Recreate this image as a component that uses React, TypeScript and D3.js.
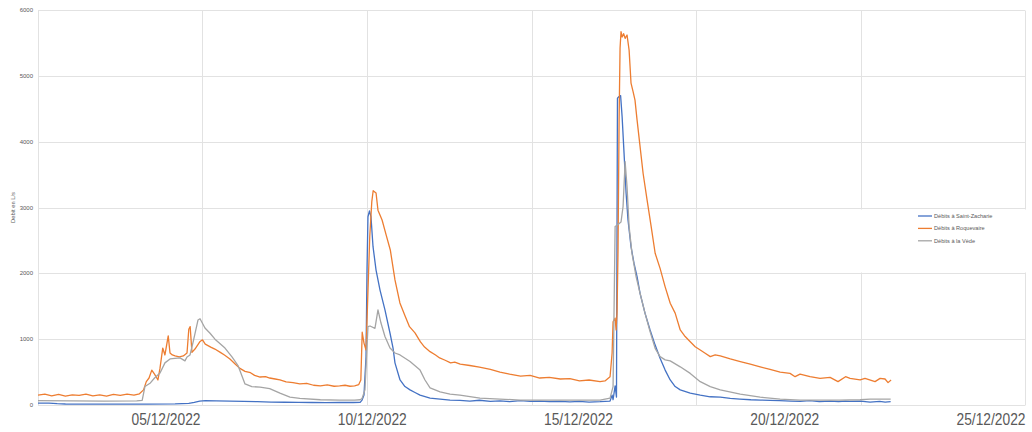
import React from 'react';
import * as d3 from 'd3';

// hours since 30/11/2022 00:00, débit in L/s
const saintZacharie: [number, number][] = [
  [0, 30], [8, 28], [14, 20], [20, 15], [40, 12], [60, 12], [80, 14], [100, 18], [110, 25], [114, 40],
  [118, 60], [122, 65], [130, 62], [140, 58], [150, 55], [160, 52], [170, 45], [180, 42], [190, 40],
  [200, 38], [210, 36], [220, 38], [230, 38], [235, 40], [236.4, 75], [237.8, 150], [239.3, 735],
  [240, 2050], [240.7, 2860], [241.8, 2950], [242.9, 2860], [244.4, 2405], [246.6, 2050], [249.5, 1745],
  [253.1, 1445], [256.8, 1090], [259, 865], [260.4, 640], [264.1, 380], [267.7, 280], [271.4, 230],
  [275, 190], [278.7, 150], [286, 105], [293.3, 90], [300.6, 75], [307.8, 70], [315, 60], [322, 72],
  [330, 55], [337, 62], [344, 50], [352, 66], [359, 55], [366, 60], [373, 50], [381, 56], [388, 48],
  [395, 55], [402, 45], [410, 50], [417.3, 60], [418.8, 150], [419.5, 80], [421, 290], [422, 120],
  [422.7, 4660], [423.9, 4685], [425, 4700], [426.1, 4380], [427.5, 3830], [429, 3220], [430.4, 2810],
  [432.6, 2405], [434.8, 2150], [437, 1950], [439.2, 1695], [442.8, 1395], [446.5, 1140], [450.2, 910],
  [453.8, 710], [457.5, 530], [461.2, 380], [464.8, 280], [468.5, 230], [475.8, 180], [483.1, 150],
  [490.4, 125], [497.7, 120], [505, 100], [512, 90], [520, 80], [527, 75], [534, 70], [541, 65],
  [549, 60], [556, 55], [563, 65], [570, 50], [578, 60], [584, 50], [589, 60], [592, 55], [600, 60],
  [607, 45], [614, 55], [618, 45], [622, 50],
];

const roquevaire: [number, number][] = [
  [0, 150], [5, 165], [10, 140], [15, 160], [20, 135], [25, 155], [30, 145], [35, 165], [40, 140],
  [45, 155], [50, 135], [55, 160], [60, 145], [65, 165], [70, 150], [74, 170], [77, 230], [79, 355],
  [81, 410], [83, 530], [85, 470], [87.5, 380], [89, 560], [91, 865], [92.6, 760], [95, 1050],
  [96.3, 790], [98, 760], [100, 745], [103, 730], [106, 745], [108.7, 790], [110, 1150], [111, 1190],
  [112.3, 800], [114.5, 850], [118, 960], [120, 990], [122, 925], [126, 880], [129, 850], [133, 800],
  [136, 760], [140, 700], [144, 620], [147, 560], [151, 510], [155, 490], [158, 450], [162, 425],
  [166, 430], [169, 410], [173, 395], [176.5, 380], [181, 350], [186, 340], [191, 320], [196, 330],
  [201, 300], [206, 290], [211, 305], [216, 285], [220, 290], [224, 300], [227.6, 285], [231, 290],
  [234, 310], [235.5, 380], [236.5, 1105], [237.8, 940], [239.3, 835], [240.5, 1600], [242, 2555],
  [243.5, 3090], [244.5, 3255], [246.6, 3220], [248, 2960], [251, 2810], [254, 2580], [257, 2355],
  [260.4, 1900], [264, 1550], [268, 1340], [271, 1190], [275, 1095], [279, 960], [282, 880], [286, 810],
  [290, 760], [293, 715], [297, 680], [301, 640], [304, 650], [308, 620], [315, 600], [322, 575],
  [330, 540], [337, 500], [344, 470], [352, 440], [359, 450], [366, 410], [373, 420], [381, 395],
  [388, 400], [395, 365], [402, 380], [410, 355], [413.6, 365], [417.3, 430], [418.8, 790],
  [419.5, 1265], [421, 1320], [421.7, 1140], [422.4, 1400], [423.1, 2310], [423.9, 4330],
  [424.6, 5420], [425.3, 5670], [426.1, 5590], [427.2, 5640], [428.3, 5570], [429.7, 5620],
  [431.2, 5390], [432.6, 4890], [434.1, 4760], [435.5, 4630], [437, 4330], [439.2, 3925],
  [441.4, 3520], [444.3, 3115], [447.3, 2710], [450.2, 2305], [453.8, 2075], [457.5, 1795],
  [461.2, 1545], [464.8, 1395], [468.5, 1140], [472.1, 1040], [475.8, 960], [479.4, 885], [483.1, 835],
  [486.7, 785], [490.4, 735], [494, 760], [497.7, 745], [505, 700], [512.3, 660], [519.6, 620],
  [526.8, 580], [534, 540], [541.4, 500], [548.6, 480], [552.3, 430], [555.9, 470], [563.2, 430],
  [570.5, 405], [577.8, 420], [583.6, 355], [589.1, 430], [592.4, 405], [599.7, 380], [603.3, 405],
  [610.6, 355], [614.3, 405], [617.9, 395], [620.1, 340], [622.3, 380],
];

const laVede: [number, number][] = [
  [0, 65], [24, 62], [48, 60], [72, 62], [76, 70], [78, 280], [82, 335], [85, 410], [89, 485],
  [92.6, 640], [96.3, 700], [103.6, 715], [107.2, 670], [108.7, 730], [110.9, 760], [113.1, 950],
  [116.7, 1290], [118.2, 1310], [121.8, 1170], [125.5, 1090], [129.1, 1000], [136.4, 865],
  [141.5, 730], [145.9, 600], [149, 430], [151, 320], [156, 280], [162, 270], [169, 250], [176.5, 180],
  [183.8, 120], [191, 100], [206, 80], [220, 75], [231, 75], [235, 80], [236.4, 100], [238.5, 230],
  [240.7, 1190], [242.2, 1200], [245.8, 1165], [248, 1445], [250.2, 1245], [253.1, 1040],
  [256.8, 865], [260.4, 790], [264.1, 760], [271.4, 660], [278.7, 530], [282.3, 380], [286, 260],
  [293.3, 200], [300.6, 165], [307.8, 150], [322.4, 105], [337, 90], [351.6, 75], [366, 75],
  [381, 75], [395, 75], [410, 75], [417.3, 105], [419.5, 280], [421, 2710], [422.7, 2735],
  [425.3, 2780], [426.8, 3015], [428.3, 3695], [429.7, 3315], [431.2, 2710], [433.3, 2305],
  [436.3, 1950], [439.2, 1695], [442.8, 1395], [446.5, 1115], [450.2, 860], [453.8, 735],
  [457.5, 685], [461.2, 670], [468.5, 580], [475.8, 480], [483.1, 355], [490.4, 280], [497.7, 230],
  [512.3, 165], [526.8, 120], [541.4, 90], [555.9, 75], [570.5, 75], [585, 75], [599.7, 80],
  [607, 90], [614, 90], [622, 90],
];

const seriesNames = ['Débits à Saint-Zacharie', 'Débits à Roquevaire', 'Débits à la Vède'];
const seriesColors = ['#4472C4', '#ED7D31', '#A5A5A5'];
const yTicks = [0, 1000, 2000, 3000, 4000, 5000, 6000];
const gridDayOffsets = [0, 5, 10, 15, 20, 25, 30];
const xLabels = ['05/12/2022', '10/12/2022', '15/12/2022', '20/12/2022', '25/12/2022'];

const W = 1032;
const H = 432;
const START = new Date(2022, 10, 30);
const parseLabel = d3.timeParse('%d/%m/%Y');
const font = "'Liberation Sans', Arial, sans-serif";
const gridColor = '#e2e2e2';

export default function App() {
  const x = d3
    .scaleTime()
    .domain([START, d3.timeDay.offset(START, 30)])
    .range([38, 1025]);
  const y = d3.scaleLinear().domain([0, 6000]).range([405, 10]);

  // the date labels under the chart sit on their own, wider spacing
  const labelDates = xLabels.map(l => parseLabel(l) as Date);
  const xl = d3
    .scaleTime()
    .domain([labelDates[0], labelDates[labelDates.length - 1]])
    .range([166, 991]);

  const toDate = (h: number) => new Date(START.getTime() + h * 3600 * 1000);
  const line = d3
    .line<[number, number]>()
    .x(d => x(toDate(d[0])))
    .y(d => y(d[1]));

  const allSeries = [saintZacharie, roquevaire, laVede];
  const crisp = (v: number) => Math.round(v) + 0.5;

  return (
    <svg width={W} height={H} style={{ position: 'absolute', left: 0, top: 0, background: '#fff' }}>
      {/* gridlines */}
      {yTicks.map(t => (
        <line
          key={'h' + t}
          x1={38}
          x2={1025}
          y1={crisp(y(t))}
          y2={crisp(y(t))}
          stroke={gridColor}
          strokeWidth={1}
        />
      ))}
      {gridDayOffsets.map(d => {
        const gx = crisp(x(d3.timeDay.offset(START, d)));
        return (
          <line key={'v' + d} x1={gx} x2={gx} y1={crisp(y(6000))} y2={crisp(y(0))} stroke={gridColor} strokeWidth={1} />
        );
      })}

      {/* legend background */}
      <rect x={852} y={crisp(y(3000)) + 1} width={180} height={crisp(y(2000)) - crisp(y(3000)) - 2} fill="#fff" />

      {/* y tick labels */}
      {yTicks.map(t => (
        <text
          key={'yt' + t}
          x={33}
          y={y(t)}
          dy="0.35em"
          textAnchor="end"
          fontFamily={font}
          fontSize={6}
          fill="#595959"
        >
          {t}
        </text>
      ))}
      <text
        transform={`translate(15,${(y(0) + y(6000)) / 2}) rotate(-90)`}
        textAnchor="middle"
        fontFamily={font}
        fontSize={5.8}
        fill="#595959"
      >
        Debit en L/s
      </text>

      {/* series */}
      {allSeries.map((s, i) => (
        <path
          key={'s' + i}
          d={line(s) || ''}
          fill="none"
          stroke={seriesColors[i]}
          strokeWidth={1.3}
          strokeLinejoin="round"
        />
      ))}

      {/* legend */}
      {seriesNames.map((n, i) => (
        <g key={'lg' + i} transform={`translate(918,${216 + i * 12.4})`}>
          <line x1={0} x2={14} y1={0} y2={0} stroke={seriesColors[i]} strokeWidth={1.3} />
          <text x={16} y={0} dy="0.35em" fontFamily={font} fontSize={5.6} fill="#595959">
            {n}
          </text>
        </g>
      ))}

      {/* date labels */}
      {labelDates.map((d, i) => (
        <text
          key={'xl' + i}
          x={xl(d)}
          y={425}
          textAnchor="middle"
          fontFamily={"'Liberation Sans Narrow', " + font}
          fontSize={16}
          fill="#595959"
          textLength={69}
          lengthAdjust="spacingAndGlyphs"
        >
          {xLabels[i]}
        </text>
      ))}
    </svg>
  );
}
